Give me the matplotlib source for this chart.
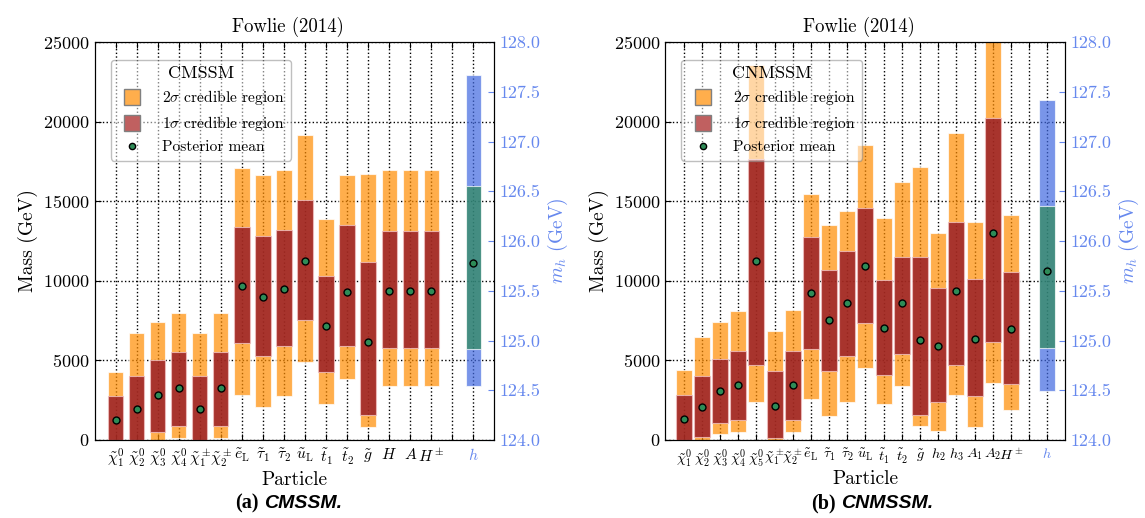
import matplotlib
matplotlib.use("Agg")
import matplotlib.pyplot as plt
from matplotlib.lines import Line2D

plt.rcParams.update({
    'font.family': 'serif',
    'font.serif': ['cmr10'],
    'mathtext.fontset': 'cm',
    'axes.unicode_minus': False,
    'axes.formatter.use_mathtext': True,
})

# CMSSM masses (GeV): 2sigma / 1sigma limits and posterior means
cmssm_labels = [r'$\tilde{\chi}^0_1$', r'$\tilde{\chi}^0_2$', r'$\tilde{\chi}^0_3$', r'$\tilde{\chi}^0_4$',
                r'$\tilde{\chi}^\pm_1$', r'$\tilde{\chi}^\pm_2$', r'$\tilde{e}_{\rm L}$', r'$\tilde{\tau}_1$',
                r'$\tilde{\tau}_2$', r'$\tilde{u}_{\rm L}$', r'$\tilde{t}_1$', r'$\tilde{t}_2$', r'$\tilde{g}$',
                r'$H$', r'$A$', r'$H^\pm$']
cmssm_lo2 = [0, 0, 0, 100, 0, 100, 2830, 2080, 2740, 4870, 2230, 3830, 830, 3410, 3410, 3410]
cmssm_lo1 = [0, 0, 500, 850, 0, 850, 6110, 5280, 5900, 7530, 4300, 5930, 1540, 5780, 5780, 5780]
cmssm_mean = [1250, 1950, 2810, 3240, 1950, 3240, 9690, 9000, 9460, 11230, 7190, 9290, 6150, 9380, 9380, 9380]
cmssm_hi1 = [2790, 4050, 5010, 5530, 4050, 5530, 13410, 12810, 13200, 15100, 10330, 13490, 11210, 13120, 13120, 13120]
cmssm_hi2 = [4300, 6740, 7440, 7960, 6740, 7960, 17090, 16620, 16930, 19160, 13900, 16660, 16680, 16970, 16970, 16970]
# light higgs: lo2, lo1, mean, hi1, hi2
cmssm_h = [124.54, 124.91, 125.78, 126.55, 127.67]

# CNMSSM
cnmssm_labels = [r'$\tilde{\chi}^0_1$', r'$\tilde{\chi}^0_2$', r'$\tilde{\chi}^0_3$', r'$\tilde{\chi}^0_4$',
                 r'$\tilde{\chi}^0_5$', r'$\tilde{\chi}^\pm_1$', r'$\tilde{\chi}^\pm_2$', r'$\tilde{e}_{\rm L}$',
                 r'$\tilde{\tau}_1$', r'$\tilde{\tau}_2$', r'$\tilde{u}_{\rm L}$', r'$\tilde{t}_1$', r'$\tilde{t}_2$',
                 r'$\tilde{g}$', r'$h_2$', r'$h_3$', r'$A_1$', r'$A_2$', r'$H^\pm$']
cnmssm_lo2 = [0, 0, 400, 520, 2410, 0, 520, 2560, 1500, 2410, 4530, 2230, 3370, 850, 540, 2830, 830, 3580, 1890]
cnmssm_lo1 = [0, 190, 1060, 1230, 4740, 150, 1270, 5700, 4350, 5300, 7320, 4100, 5390, 1540, 2390, 4680, 2790, 6150, 3490]
cnmssm_mean = [1310, 2060, 3100, 3430, 11270, 2160, 3450, 9230, 7550, 8590, 10920, 7010, 8610, 6280, 5900, 9360, 6340, 13020, 6970]
cnmssm_hi1 = [2830, 4030, 5090, 5570, 17650, 4350, 5610, 12770, 10670, 11860, 14570, 10060, 11500, 11500, 9520, 13720, 10100, 20240, 10540]
cnmssm_hi2 = [4390, 6470, 7440, 8090, 23580, 6840, 8190, 15460, 13530, 14400, 18540, 13950, 16180, 17160, 13020, 19270, 13680, 26000, 14110]
cnmssm_h = [124.49, 124.92, 125.70, 126.35, 127.42]

ORANGE = 'darkorange'
RED = '#921626'
GREEN = 'seagreen'
BLUE = 'royalblue'
TICKBLUE = '#6688ee'


def draw_panel(rect, labels, lo2, lo1, mean, hi1, hi2, hpars, model, width, xfs):
    ax = fig.add_axes(rect)
    n = len(labels)
    x = list(range(n))
    ax.bar(x, [b - a for a, b in zip(lo2, hi2)], bottom=lo2, width=width,
           color=ORANGE, alpha=0.7, edgecolor='white', linewidth=0.8, zorder=2)
    ax.bar(x, [b - a for a, b in zip(lo1, hi1)], bottom=lo1, width=width,
           color=RED, alpha=0.8, edgecolor='#f0c0c0', linewidth=0.8, zorder=3)
    ax.plot(x, mean, 'o', ms=5, mfc=GREEN, mec='k', mew=1, ls='none', zorder=4)

    xh = n + 1
    ax.set_xlim(-1, n + 2)
    ax.set_ylim(0, 25000)
    ax.set_yticks(range(0, 25001, 5000))
    ax.set_xticks(range(n + 2))
    ax.set_xticklabels(labels + ['', r'$h$'], fontsize=xfs)
    ax.get_xticklabels()[-1].set_color(TICKBLUE)
    ax.tick_params(axis='both', direction='in', labelsize=13, length=4)
    ax.tick_params(axis='x', top=True, pad=5, labelsize=xfs)
    ax.grid(True, linestyle=':', color='k', linewidth=1, zorder=0)
    ax.set_axisbelow(True)
    ax.set_xlabel('Particle', fontsize=14, labelpad=1)
    ax.set_ylabel('Mass (GeV)', fontsize=14)
    ax.set_title('Fowlie (2014)', fontsize=13.5, pad=7, x=0.483)

    ax2 = ax.twinx()
    ax2.set_ylim(124, 128)
    ax2.bar([xh], [hpars[4] - hpars[0]], bottom=[hpars[0]], width=width,
            color=BLUE, alpha=0.7, edgecolor='white', linewidth=0.8)
    ax2.bar([xh], [hpars[3] - hpars[1]], bottom=[hpars[1]], width=width,
            color=GREEN, alpha=0.7, edgecolor='white', linewidth=0.8)
    ax2.plot([xh], [hpars[2]], 'o', ms=5, mfc=GREEN, mec='k', mew=1)
    ax2.set_yticks([124 + 0.5 * i for i in range(9)])
    ax2.yaxis.set_major_formatter(matplotlib.ticker.FormatStrFormatter('%.1f'))
    ax2.tick_params(axis='y', direction='in', colors=TICKBLUE, labelsize=13, length=4)
    ax2.set_ylabel(r'$m_h$ (GeV)', color=TICKBLUE, fontsize=14)

    handles = [Line2D([], [], marker='s', ls='none', ms=11, mfc='#ffae4c', mec='gray', mew=1),
               Line2D([], [], marker='s', ls='none', ms=11, mfc='#c06060', mec='gray', mew=1),
               Line2D([], [], marker='o', ls='none', ms=4.5, mfc=GREEN, mec='k')]
    leg = ax.legend(handles, [r'$2\sigma$ credible region', r'$1\sigma$ credible region', 'Posterior mean'],
                    title=model, loc='upper left', bbox_to_anchor=(0.04, 0.955), borderaxespad=0,
                    fontsize=11.2, title_fontsize=13, handlelength=2.0, handletextpad=0.9,
                    labelspacing=0.45, fancybox=True, framealpha=0.5, edgecolor='gray')
    leg.set_zorder(10)
    return ax


fig = plt.figure(figsize=(11.45, 5.18), dpi=100)

draw_panel([94.5 / 1145, 78 / 518, 400 / 1145, 398 / 518], cmssm_labels, cmssm_lo2, cmssm_lo1,
           cmssm_mean, cmssm_hi1, cmssm_hi2, cmssm_h, 'CMSSM', 0.73, 11.3)
draw_panel([665.5 / 1145, 78 / 518, 400 / 1145, 398 / 518], cnmssm_labels, cnmssm_lo2, cnmssm_lo1,
           cnmssm_mean, cnmssm_hi1, cnmssm_hi2, cnmssm_h, 'CNMSSM', 0.88, 10.3)

# sub-figure captions
cy = 15 / 518
fig.text(259 / 1145, cy, '(a)', ha='right', va='center', fontsize=14.5, fontweight='bold',
         family='Liberation Serif')
fig.text(264 / 1145, cy, 'CMSSM.', ha='left', va='center', fontsize=14, fontweight='bold',
         fontstyle='italic', family='Liberation Sans')
fig.text(836 / 1145, cy, '(b)', ha='right', va='center', fontsize=14.5, fontweight='bold',
         family='Liberation Serif')
fig.text(841 / 1145, cy, 'CNMSSM.', ha='left', va='center', fontsize=14, fontweight='bold',
         fontstyle='italic', family='Liberation Sans')

fig.savefig('out.png', dpi=100)
